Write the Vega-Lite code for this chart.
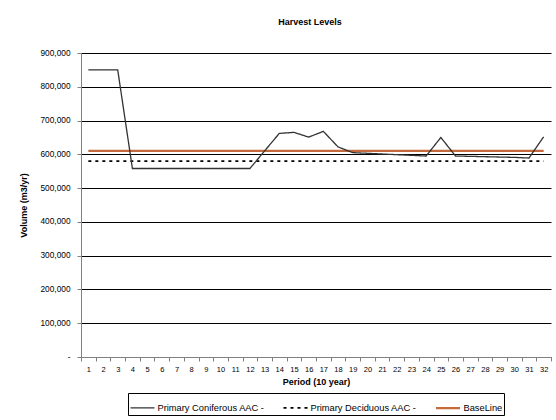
{
  "$schema": "https://vega.github.io/schema/vega-lite/v6.json",
  "autosize": {"type": "none"},
  "width": 470,
  "height": 304,
  "padding": {"left": 81, "top": 53, "right": 5, "bottom": 63},
  "background": "white",
  "title": {"text": "Harvest Levels", "fontSize": 9, "fontWeight": "bold", "font": "Liberation Sans", "anchor": "middle", "offset": 21, "dx": -6, "color": "#000"},
  "config": {
    "font": "Liberation Sans",
    "view": {"stroke": null},
    "legend": {"layout": {"bottom": {"anchor": "middle"}}}
  },
  "data": {"values": [
    {"p": 1, "con": 850000, "dec": 580000, "base": 610000},
    {"p": 2, "con": 850000, "dec": 580000, "base": 610000},
    {"p": 3, "con": 850000, "dec": 580000, "base": 610000},
    {"p": 4, "con": 558000, "dec": 580000, "base": 610000},
    {"p": 5, "con": 558000, "dec": 580000, "base": 610000},
    {"p": 6, "con": 558000, "dec": 580000, "base": 610000},
    {"p": 7, "con": 558000, "dec": 580000, "base": 610000},
    {"p": 8, "con": 558000, "dec": 580000, "base": 610000},
    {"p": 9, "con": 558000, "dec": 580000, "base": 610000},
    {"p": 10, "con": 558000, "dec": 580000, "base": 610000},
    {"p": 11, "con": 558000, "dec": 580000, "base": 610000},
    {"p": 12, "con": 558000, "dec": 580000, "base": 610000},
    {"p": 13, "con": 610000, "dec": 580000, "base": 610000},
    {"p": 14, "con": 662000, "dec": 580000, "base": 610000},
    {"p": 15, "con": 665000, "dec": 580000, "base": 610000},
    {"p": 16, "con": 651000, "dec": 580000, "base": 610000},
    {"p": 17, "con": 668000, "dec": 580000, "base": 610000},
    {"p": 18, "con": 622000, "dec": 580000, "base": 610000},
    {"p": 19, "con": 605000, "dec": 580000, "base": 610000},
    {"p": 20, "con": 603000, "dec": 580000, "base": 610000},
    {"p": 21, "con": 601000, "dec": 580000, "base": 610000},
    {"p": 22, "con": 599000, "dec": 580000, "base": 610000},
    {"p": 23, "con": 597000, "dec": 580000, "base": 610000},
    {"p": 24, "con": 595000, "dec": 580000, "base": 610000},
    {"p": 25, "con": 650000, "dec": 580000, "base": 610000},
    {"p": 26, "con": 595000, "dec": 580000, "base": 610000},
    {"p": 27, "con": 594000, "dec": 580000, "base": 610000},
    {"p": 28, "con": 593000, "dec": 580000, "base": 610000},
    {"p": 29, "con": 592000, "dec": 580000, "base": 610000},
    {"p": 30, "con": 591000, "dec": 580000, "base": 610000},
    {"p": 31, "con": 589000, "dec": 580000, "base": 610000},
    {"p": 32, "con": 652000, "dec": 580000, "base": 610000}
  ]},
  "transform": [
    {"fold": ["base", "dec", "con"], "as": ["key", "v"]},
    {"lookup": "key", "from": {"data": {"values": [
      {"key": "con", "series": "Primary Coniferous AAC  -", "ord": 1},
      {"key": "dec", "series": "Primary Deciduous AAC  -", "ord": 2},
      {"key": "base", "series": "BaseLine", "ord": 3}
    ]}, "key": "key", "fields": ["series", "ord"]}}
  ],
  "mark": {"type": "line", "strokeCap": "butt"},
  "encoding": {
    "x": {
      "field": "p", "type": "quantitative",
      "scale": {"domain": [0.5, 32.5], "nice": false, "zero": false},
      "axis": {
        "title": "Period (10 year)",
        "titleFontSize": 9, "titleFontWeight": "bold", "titleColor": "#000", "titlePadding": 5,
        "values": [0.5,1.5,2.5,3.5,4.5,5.5,6.5,7.5,8.5,9.5,10.5,11.5,12.5,13.5,14.5,15.5,16.5,17.5,18.5,19.5,20.5,21.5,22.5,23.5,24.5,25.5,26.5,27.5,28.5,29.5,30.5,31.5,32.5],
        "labelExpr": "datum.value < 32 ? format(datum.value + 0.5, 'd') : ''",
        "labelOffset": 7.34,
        "labelFontSize": 7.5, "labelColor": "#000", "labelPadding": 4, "labelOverlap": false, "labelFlush": false,
        "grid": false,
        "domainColor": "#808080", "domainWidth": 1,
        "tickColor": "#808080", "tickSize": 4
      }
    },
    "y": {
      "field": "v", "type": "quantitative",
      "scale": {"domain": [0, 900000], "nice": false},
      "axis": {
        "title": "Volume (m3/yr)",
        "titleFontSize": 9, "titleFontWeight": "bold", "titleColor": "#000", "titlePadding": 12,
        "values": [0,100000,200000,300000,400000,500000,600000,700000,800000,900000],
        "labelExpr": "datum.value == 0 ? '-\u2007\u2007\u2007' : format(datum.value, ',')",
        "labelFontSize": 8.3, "labelColor": "#000", "labelPadding": 7,
        "grid": true, "gridColor": "#000", "gridWidth": 1,
        "domainColor": "#808080", "domainWidth": 1,
        "tickColor": "#808080", "tickSize": 4
      }
    },
    "color": {
      "field": "series", "type": "nominal",
      "scale": {"domain": ["Primary Coniferous AAC  -", "Primary Deciduous AAC  -", "BaseLine"], "range": ["#333333", "#000000", "#c46a3c"]},
      "legend": {
        "title": null, "orient": "bottom", "direction": "horizontal", "offset": 6,
        "strokeColor": "#000", "padding": 1.5, "labelFontSize": 9.3, "labelColor": "#000",
        "symbolType": "stroke", "symbolSize": 576, "symbolStrokeWidth": 2, "columnPadding": 12, "labelOffset": 2, "labelLimit": 300
      }
    },
    "strokeDash": {
      "field": "series", "type": "nominal",
      "scale": {"domain": ["Primary Coniferous AAC  -", "Primary Deciduous AAC  -", "BaseLine"], "range": [[1, 0], [3, 4], [1, 0]]},
      "legend": null
    },
    "strokeWidth": {
      "field": "series", "type": "nominal",
      "scale": {"domain": ["Primary Coniferous AAC  -", "Primary Deciduous AAC  -", "BaseLine"], "range": [1.3, 2.2, 2]},
      "legend": null
    },
    "order": {"field": "p"},
    "detail": {"field": "ord"}
  }
}
